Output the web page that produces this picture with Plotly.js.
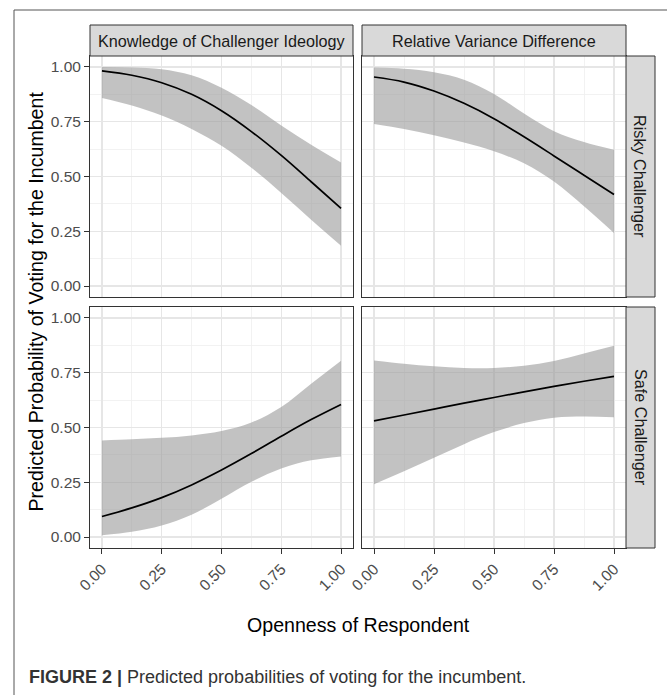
<!DOCTYPE html>
<html>
<head>
<meta charset="utf-8">
<script src="https://cdn.plot.ly/plotly-3.0.1.min.js"></script>
<style>html,body{margin:0;padding:0;background:#fff;}#chart{width:667px;height:695px;}</style>
</head>
<body>
<div id="chart"></div>
<script>
// ---- data ----
const openness = [0, 0.125, 0.25, 0.375, 0.5, 0.625, 0.75, 0.875, 1];
const facetCols = ["Knowledge of Challenger Ideology", "Relative Variance Difference"];
const facetRows = ["Risky Challenger", "Safe Challenger"];

const knowRiskyFit = [0.982, 0.962, 0.928, 0.875, 0.800, 0.705, 0.596, 0.476, 0.354];
const knowRiskyLo  = [0.858, 0.824, 0.778, 0.717, 0.640, 0.540, 0.425, 0.303, 0.184];
const knowRiskyHi  = [1.000, 0.998, 0.990, 0.962, 0.905, 0.826, 0.733, 0.645, 0.564];

const varRiskyFit = [0.954, 0.931, 0.890, 0.834, 0.764, 0.681, 0.594, 0.506, 0.418];
const varRiskyLo  = [0.740, 0.717, 0.688, 0.655, 0.615, 0.560, 0.477, 0.364, 0.242];
const varRiskyHi  = [0.997, 0.992, 0.976, 0.942, 0.877, 0.787, 0.707, 0.657, 0.622];

const knowSafeFit = [0.094, 0.133, 0.180, 0.238, 0.306, 0.381, 0.460, 0.536, 0.605];
const knowSafeLo  = [0.008, 0.024, 0.053, 0.102, 0.175, 0.252, 0.313, 0.350, 0.368];
const knowSafeHi  = [0.441, 0.446, 0.453, 0.464, 0.484, 0.523, 0.594, 0.700, 0.805];

const varSafeFit = [0.530, 0.557, 0.584, 0.611, 0.637, 0.663, 0.688, 0.711, 0.733];
const varSafeLo  = [0.241, 0.300, 0.362, 0.424, 0.479, 0.520, 0.545, 0.550, 0.547];
const varSafeHi  = [0.806, 0.791, 0.779, 0.772, 0.772, 0.782, 0.804, 0.838, 0.873];

const tickVals = [0, 0.25, 0.5, 0.75, 1];
const tickText = ["0.00", "0.25", "0.50", "0.75", "1.00"];

// ---- geometry helpers (pixels -> paper) ----
const W = 667, H = 695;
const px = v => v / W;
const py = v => 1 - v / H;

const colL = [90, 353], colR = [362, 626];
const rowT = [56, 297], rowB = [307, 548];

const panels = [
  {fit: knowRiskyFit, lo: knowRiskyLo, hi: knowRiskyHi, ax: ""},
  {fit: varRiskyFit,  lo: varRiskyLo,  hi: varRiskyHi,  ax: "2"},
  {fit: knowSafeFit,  lo: knowSafeLo,  hi: knowSafeHi,  ax: "3"},
  {fit: varSafeFit,   lo: varSafeLo,   hi: varSafeHi,   ax: "4"}
];

const traces = [];
panels.forEach(p => {
  const xa = "x" + p.ax, ya = "y" + p.ax;
  traces.push({x: openness, y: p.lo, xaxis: xa, yaxis: ya, type: "scatter", mode: "lines",
    line: {width: 0, shape: "spline"}, hoverinfo: "skip", showlegend: false});
  traces.push({x: openness, y: p.hi, xaxis: xa, yaxis: ya, type: "scatter", mode: "lines",
    line: {width: 0, shape: "spline"}, fill: "tonexty", fillcolor: "rgba(153,153,153,0.6)",
    hoverinfo: "skip", showlegend: false});
  traces.push({x: openness, y: p.fit, xaxis: xa, yaxis: ya, type: "scatter", mode: "lines",
    line: {width: 1.7, color: "#000", shape: "spline"}, showlegend: false});
});

const tickFont = {family: "Liberation Sans, Arial, sans-serif", size: 15.5, color: "#4d4d4d"};

function common(labels) {
  return {
    range: [-0.05, 1.05],
    tickvals: tickVals, ticktext: tickText,
    showticklabels: labels, ticks: labels ? "outside" : "", ticklen: 5, tickwidth: 1, tickcolor: "#333",
    tickfont: tickFont,
    showgrid: true, gridcolor: "#e6e6e6", gridwidth: 1.4,
    minor: {dtick: 0.125, tick0: 0, showgrid: true, gridcolor: "#efefef", gridwidth: 0.8},
    showline: true, mirror: true, linecolor: "#333", linewidth: 1, zeroline: false
  };
}
function xAxis(dom, anchor, labels) {
  return Object.assign(common(labels), {domain: dom, anchor: anchor, tickangle: -45});
}
function yAxis(dom, anchor, labels) {
  return Object.assign(common(labels), {domain: dom, anchor: anchor});
}

const dL = [px(colL[0]), px(colL[1])], dR = [px(colR[0]), px(colR[1])];
const dT = [py(rowT[1]), py(rowT[0])], dB = [py(rowB[1]), py(rowB[0])];

const stripFill = "#d9d9d9", stripLine = "#333";
const shapes = [
  {type: "rect", xref: "paper", yref: "paper", x0: px(colL[0]), x1: px(colL[1]), y0: py(56), y1: py(25),
   fillcolor: stripFill, line: {color: stripLine, width: 1}},
  {type: "rect", xref: "paper", yref: "paper", x0: px(colR[0]), x1: px(colR[1]), y0: py(56), y1: py(25),
   fillcolor: stripFill, line: {color: stripLine, width: 1}},
  {type: "rect", xref: "paper", yref: "paper", x0: px(626), x1: px(655), y0: py(rowT[1]), y1: py(rowT[0]),
   fillcolor: stripFill, line: {color: stripLine, width: 1}},
  {type: "rect", xref: "paper", yref: "paper", x0: px(626), x1: px(655), y0: py(rowB[1]), y1: py(rowB[0]),
   fillcolor: stripFill, line: {color: stripLine, width: 1}},
  // outer frame
  {type: "line", xref: "paper", yref: "paper", x0: px(14), x1: px(667), y0: py(10), y1: py(10),
   line: {color: "#555", width: 1}},
  {type: "line", xref: "paper", yref: "paper", x0: px(14), x1: px(14), y0: py(10), y1: py(695),
   line: {color: "#555", width: 1}}
];

const stripFont = {family: "Liberation Sans, Arial, sans-serif", size: 16.2, color: "#1a1a1a"};
const titleFont = {family: "Liberation Sans, Arial, sans-serif", size: 19.6, color: "#000"};
const annotations = [
  {text: facetCols[0], xref: "paper", yref: "paper", x: px((colL[0] + colL[1]) / 2), y: py(40.5),
   showarrow: false, font: stripFont, xanchor: "center", yanchor: "middle"},
  {text: facetCols[1], xref: "paper", yref: "paper", x: px((colR[0] + colR[1]) / 2), y: py(40.5),
   showarrow: false, font: stripFont, xanchor: "center", yanchor: "middle"},
  {text: facetRows[0], xref: "paper", yref: "paper", x: px(640.5), y: py((rowT[0] + rowT[1]) / 2),
   showarrow: false, font: stripFont, textangle: 90, xanchor: "center", yanchor: "middle"},
  {text: facetRows[1], xref: "paper", yref: "paper", x: px(640.5), y: py((rowB[0] + rowB[1]) / 2),
   showarrow: false, font: stripFont, textangle: 90, xanchor: "center", yanchor: "middle"},
  {text: "Predicted Probability of Voting for the Incumbent", xref: "paper", yref: "paper",
   x: px(35), y: py(301.5), showarrow: false, textangle: -90,
   font: titleFont, xanchor: "center", yanchor: "middle"},
  {text: "Openness of Respondent", xref: "paper", yref: "paper",
   x: px((colL[0] + colR[1]) / 2), y: py(625), showarrow: false,
   font: titleFont, xanchor: "center", yanchor: "middle"},
  {text: "<b>FIGURE 2 |</b> Predicted probabilities of voting for the incumbent.", xref: "paper", yref: "paper",
   x: px(27), y: py(677), showarrow: false,
   font: {family: "Liberation Sans, Arial, sans-serif", size: 18, color: "#333"},
   xanchor: "left", yanchor: "middle"}
];

const layout = {
  width: W, height: H,
  margin: {l: 0, r: 0, t: 0, b: 0},
  paper_bgcolor: "#fff", plot_bgcolor: "#fff",
  showlegend: false,
  xaxis: xAxis(dL, "y", false),
  yaxis: yAxis(dT, "x", true),
  xaxis2: xAxis(dR, "y2", false),
  yaxis2: yAxis(dT, "x2", false),
  xaxis3: xAxis(dL, "y3", true),
  yaxis3: yAxis(dB, "x3", true),
  xaxis4: xAxis(dR, "y4", true),
  yaxis4: yAxis(dB, "x4", false),
  shapes: shapes,
  annotations: annotations
};

Plotly.newPlot("chart", traces, layout, {displayModeBar: false, staticPlot: true});
</script>
</body>
</html>
